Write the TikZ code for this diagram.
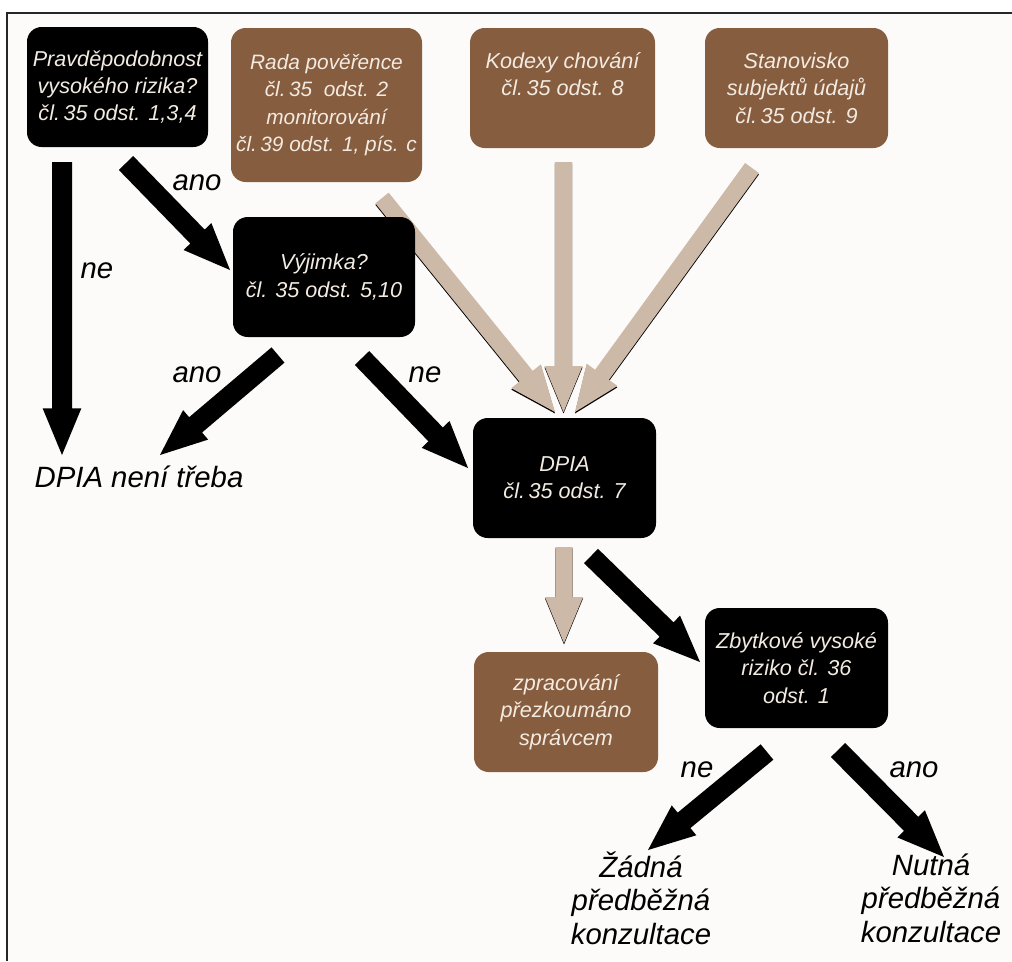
\documentclass[tikz,border=0pt]{standalone}
\usepackage{fontspec}
\setmainfont{Liberation Sans}
\usetikzlibrary{calc}
\definecolor{brn}{HTML}{875D3F}
\definecolor{lgt}{HTML}{CDB9A8}
\definecolor{crm}{HTML}{F3EBE1}
\definecolor{bgc}{HTML}{FCFBF9}
% #1 style, #2 start coordinate, #3 tip coordinate, #4 shaft half width, #5 head half width, #6 head length
\newcommand\blockarrow[6]{%
  \coordinate (#2#3b) at ($(#3)!#6!(#2)$);
  \fill[#1] ($(#2)!#4!90:(#3)$) -- ($(#2#3b)!#4!-90:(#2)$) -- ($(#2#3b)!#5!-90:(#2)$) -- (#3)
     -- ($(#2#3b)!#5!90:(#2)$) -- ($(#2#3b)!#4!90:(#2)$) -- ($(#2)!#4!-90:(#3)$) -- cycle;}
\newcommand\blackarrow[2]{\blockarrow{blk}{#1}{#2}{7.5pt}{14.5pt}{35pt}}
\newcommand\lightarrow[2]{\blockarrow{shd}{#1}{#2}{6.4pt}{14.25pt}{34.5pt}\blockarrow{lgtf}{#1}{#2}{6.4pt}{14.25pt}{34.5pt}}
\begin{document}
\begin{tikzpicture}[x=0.75pt,y=-0.75pt,
  box/.style={rounded corners=11pt, inner sep=0pt, align=center, text=crm,
    minimum height=90pt, font=\itshape\fontsize{16.2}{20.5}\selectfont},
  dbox/.style={box, fill=black},
  bbox/.style={box, fill=brn},
  lbl/.style={font=\itshape\fontsize{22}{25}\selectfont, text=black, inner sep=0pt, align=center},
  blk/.style={fill=black},
  lgtf/.style={fill=lgt},
  shd/.style={fill=black, transform canvas={yshift=-1.1pt}},
  frame/.style={line width=1.5pt, draw=black!85}]
\useasboundingbox (0,0) rectangle (1012,961);
\fill[white] (0,0) rectangle (1012,961);
\fill[bgc] (6,12) rectangle (1012,961);
\draw[frame] (6,12.5) -- (1012,12.5);
\draw[frame] (6.5,12) -- (6.5,961);

% coordinates of arrows
\coordinate (l1s) at (382,198); \coordinate (l1t) at (555,412);
\coordinate (l2s) at (563.5,162); \coordinate (l2t) at (563.5,412);
\coordinate (l3s) at (752,168); \coordinate (l3t) at (575,412);
\coordinate (l4s) at (564,547); \coordinate (l4t) at (564,643);
\coordinate (a1s) at (62,162); \coordinate (a1t) at (62,455);
\coordinate (a2s) at (126,163); \coordinate (a2t) at (230,270);
\coordinate (a3s) at (278,355); \coordinate (a3t) at (160,455);
\coordinate (a4s) at (362,358); \coordinate (a4t) at (468,468);
\coordinate (a5s) at (591,556); \coordinate (a5t) at (700,662);
\coordinate (a6s) at (767,752); \coordinate (a6t) at (648,850);
\coordinate (a7s) at (838,750); \coordinate (a7t) at (944,857);

\lightarrow{l1s}{l1t}
\lightarrow{l2s}{l2t}
\lightarrow{l3s}{l3t}
\lightarrow{l4s}{l4t}

% boxes
\node[dbox, minimum width=135.75pt] (pr) at (117.5,87) {Pravděpodobnost\\vysokého rizika?\\čl.\,35 odst. 1,3,4};
\node[bbox, minimum width=143.25pt, minimum height=115.5pt, font=\itshape\fontsize{15.6}{20.5}\selectfont] (rada) at (326.5,105) {Rada pověřence\\čl.\,35\ \ odst. 2\\monitorování\\čl.\,39 odst. 1, pís. c};
\node[bbox, minimum width=138.75pt] (kod) at (562.5,88) {Kodexy chování\\čl.\,35 odst. 8\\\mbox{}};
\node[bbox, minimum width=137.25pt] (stan) at (796.5,88) {Stanovisko\\subjektů údajů\\čl.\,35 odst. 9};
\node[dbox, minimum width=136.5pt] (vyj) at (324,277) {Výjimka?\\čl. 35 odst. 5,10};
\node[dbox, minimum width=137.25pt] (dpia) at (564.5,478) {DPIA\\čl.\,35 odst. 7};
\node[bbox, minimum width=138pt] (zpr) at (566,712) {zpracování\\přezkoumáno\\správcem};
\node[dbox, minimum width=137.25pt] (zbyt) at (796.5,668) {Zbytkové vysoké\\riziko čl. 36\\odst. 1};

\blackarrow{a1s}{a1t}
\blackarrow{a2s}{a2t}
\blackarrow{a3s}{a3t}
\blackarrow{a4s}{a4t}
\blackarrow{a5s}{a5t}
\blackarrow{a6s}{a6t}
\blackarrow{a7s}{a7t}

% labels
\node[lbl] (t1) at (197,183) {ano};
\node[lbl] (t2) at (97,271) {ne};
\node[lbl] (t3) at (197,375) {ano};
\node[lbl] (t4) at (425,375) {ne};
\node[lbl] (t5) at (697,770) {ne};
\node[lbl] (t6) at (914,770) {ano};
\node[lbl, anchor=base] (res1) at (139,487) {DPIA není třeba};
\node[lbl] (res2) at (641,898) {Žádná\\předběžná\\konzultace};
\node[lbl] (res3) at (931,898) {Nutná\\předběžná\\konzultace};
\end{tikzpicture}
\end{document}
